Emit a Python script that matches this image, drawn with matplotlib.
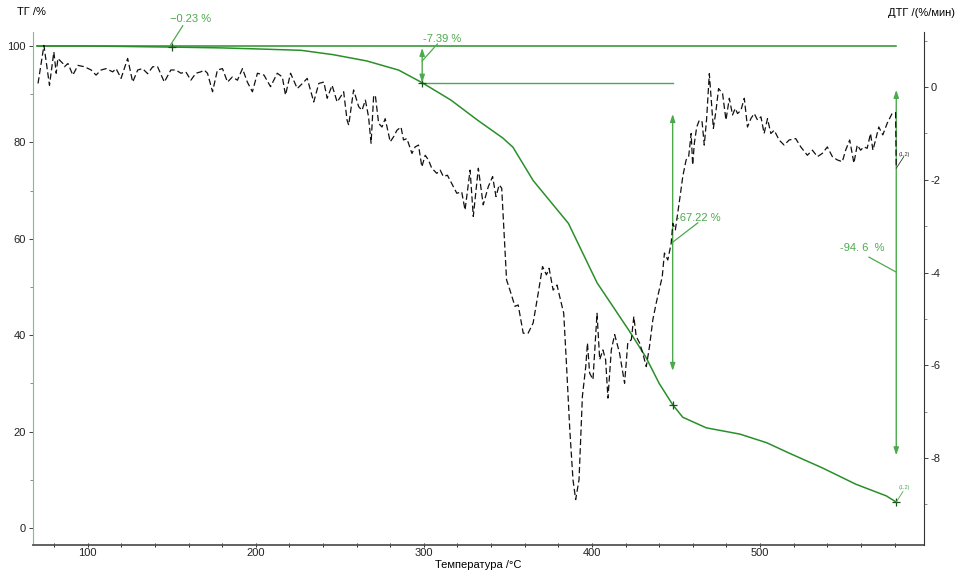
import matplotlib
matplotlib.use('Agg')
import matplotlib.pyplot as plt
from matplotlib.ticker import MultipleLocator

plt.rcParams['font.family'] = ['Liberation Sans', 'DejaVu Sans']
plt.rcParams['axes.unicode_minus'] = False

# TG curve (left axis, %)
tg_temp = [70, 100, 150, 180, 200, 227, 246, 266, 285, 299, 316, 332, 347, 353,
           365, 386, 403, 422, 432, 440, 448, 454, 468, 488, 504, 517, 537, 557,
           575, 581]
tg_val = [100.0, 100.0, 99.77, 99.6, 99.4, 99.1, 98.2, 96.9, 95.0, 92.38, 88.8,
          84.6, 80.9, 79.0, 72.1, 63.2, 50.9, 41.0, 35.5, 30.0, 25.6, 23.0, 20.8,
          19.5, 17.7, 15.6, 12.5, 9.1, 6.7, 5.4]

# DTG curve (right axis, %/min)
dtg_temp = [70.5, 74.0, 77.3, 79.9, 81.3, 82.3, 85.3, 86.2, 88.3, 91.2, 94.2, 98.1,
            102.1, 105.0, 108.0, 111.0, 114.9, 116.9, 119.9, 123.8, 126.8, 129.8,
            132.7, 135.7, 138.7, 141.6, 145.6, 149.5, 152.5, 155.5, 158.4, 161.4,
            164.4, 167.3, 169.3, 171.3, 174.3, 177.2, 180.2, 183.2, 186.1, 189.1,
            192.1, 195.0, 198.0, 201.0, 204.9, 208.8, 212.8, 215.8, 217.7, 220.7,
            224.7, 228.6, 230.6, 234.5, 237.5, 240.5, 242.5, 245.4, 248.4, 250.4,
            252.3, 254.3, 255.3, 258.2, 261.2, 263.2, 265.2, 267.1, 268.6, 270.1,
            271.1, 273.1, 275.1, 277.0, 280.0, 282.0, 284.0, 286.4, 287.9, 289.9,
            292.9, 294.8, 296.8, 298.8, 300.8, 302.7, 304.7, 307.7, 309.7, 311.6,
            314.0, 316.6, 319.6, 322.5, 324.5, 327.5, 329.4, 332.4, 335.3, 338.3,
            340.9, 342.9, 344.8, 346.3, 349.2, 351.2, 354.2, 356.1, 359.1, 362.0,
            365.0, 368.0, 370.6, 372.9, 374.5, 376.9, 379.2, 380.8, 383.2, 384.8,
            386.8, 388.7, 390.3, 392.3, 394.3, 396.3, 397.3, 398.6, 400.6, 403.0,
            404.6, 406.5, 408.1, 409.5, 411.5, 413.5, 416.4, 419.4, 421.3, 423.4,
            424.9, 426.3, 428.3, 430.2, 432.3, 434.2, 436.2, 438.2, 441.8, 443.1,
            445.1, 447.1, 448.1, 449.6, 451.0, 452.4, 454.0, 456.0, 457.5, 459.0,
            459.9, 460.9, 462.3, 463.9, 465.5, 466.8, 468.2, 469.8, 470.8, 472.2,
            473.8, 475.3, 477.7, 479.7, 481.7, 483.6, 485.2, 486.6, 488.6, 490.6,
            492.5, 494.5, 496.5, 498.5, 500.5, 502.4, 504.4, 506.4, 508.4, 511.3,
            514.3, 517.3, 521.2, 524.2, 528.1, 531.1, 534.1, 537.0, 540.0, 543.0,
            545.9, 548.9, 550.9, 553.3, 555.8, 557.8, 559.8, 561.7, 563.7, 565.7,
            567.1, 568.7, 570.6, 573.0, 575.6, 578.5, 580.6, 581.0]
dtg_val = [0.08, 0.9, 0.04, 0.76, 0.30, 0.62, 0.51, 0.44, 0.51, 0.26, 0.47, 0.44,
           0.37, 0.26, 0.37, 0.40, 0.33, 0.40, 0.19, 0.62, 0.11, 0.37,
           0.40, 0.29, 0.44, 0.44, 0.11, 0.37, 0.37, 0.30, 0.33, 0.15,
           0.30, 0.33, 0.37, 0.30, -0.10, 0.37, 0.40, 0.11, 0.22, 0.15,
           0.40, 0.11, -0.10, 0.30, 0.26, 0.01, 0.30, 0.22, -0.17, 0.30,
           -0.03, 0.11, 0.19, -0.32, 0.08, 0.11, -0.24, 0.04, -0.32, -0.21,
           -0.10, -0.71, -0.82, -0.06, -0.42, -0.50, -0.28, -0.64, -1.21, -0.21,
           -0.17, -0.78, -0.86, -0.68, -1.18, -1.07, -0.93, -0.86, -1.14, -1.11,
           -1.43, -1.29, -1.25, -1.72, -1.47, -1.57, -1.75, -1.86, -1.79, -1.93,
           -1.90, -2.08, -2.29, -2.26, -2.65, -1.79, -2.79, -1.75, -2.54, -2.15,
           -1.93, -2.36, -2.11, -2.18, -4.16, -4.38, -4.73, -4.70, -5.31, -5.31,
           -5.09, -4.45, -3.87, -4.05, -3.91, -4.38, -4.27, -4.52, -4.88, -5.96,
           -7.39, -8.47, -8.90, -8.47, -6.67, -6.03, -5.52, -6.17, -6.31, -4.88,
           -5.88, -5.67, -5.88, -6.71, -5.67, -5.34, -5.74, -6.39, -5.52, -5.45,
           -4.95, -5.38, -5.52, -5.74, -6.03, -5.60, -5.02, -4.66, -4.09, -3.58,
           -3.73, -3.37, -2.94, -3.08, -2.72, -2.36, -1.93, -1.57, -1.50, -1.00,
           -1.68, -1.21, -0.86, -0.71, -0.75, -1.25, -0.68, 0.29, -0.21, -0.89,
           -0.50, -0.03, -0.14, -0.71, -0.24, -0.60, -0.46, -0.57, -0.50, -0.24,
           -0.86, -0.68, -0.57, -0.71, -0.64, -1.00, -0.68, -1.00, -0.93, -1.14,
           -1.25, -1.14, -1.11, -1.29, -1.47, -1.36, -1.50, -1.43, -1.29, -1.50,
           -1.57, -1.61, -1.36, -1.14, -1.64, -1.25, -1.36, -1.29, -1.32, -1.00,
           -1.36, -1.14, -0.86, -1.03, -0.78, -0.57, -0.55, -1.75]

# mass-loss steps
step_temp = [150, 299, 448, 581]
step_tg = [99.77, 92.38, 25.6, 5.4]
step_labels = ['\u22120.23 %', '-7.39 %', '-67.22 %', '-94. 6  %']

green = '#2a8f2a'
agreen = '#4caa4c'

fig = plt.figure(figsize=(9.61, 5.83), dpi=100)
ax = fig.add_axes([33 / 961, 1 - 545 / 583, (924 - 33) / 961, (545 - 32) / 583])
ax.set_xlim(67.5, 597.5)
ax.set_ylim(-3.5, 102.9)

ax2 = ax.twinx()
ax2.set_ylim(-9.88, 1.19)

# reference lines
ax.plot([70, 581], [100, 100], color=green, lw=1.1)
ax.plot([step_temp[1], step_temp[2]], [step_tg[1], step_tg[1]], color=agreen, lw=1.0)

ax.plot(tg_temp, tg_val, color=green, lw=1.1)
ax2.plot(dtg_temp, dtg_val, color='#111111', lw=0.9, ls=(0, (5, 2.5)))

ax.plot(step_temp, step_tg, '+', color='#1d4f1d', ms=6, mew=0.9, clip_on=False)

arrow = dict(arrowstyle='<|-|>, head_length=0.45, head_width=0.15', color=agreen,
             lw=1.0, shrinkA=0, shrinkB=0)
ax.annotate('', xy=(step_temp[1], 99.6), xytext=(step_temp[1], step_tg[1]),
            arrowprops=arrow)
ax.annotate('', xy=(step_temp[2], 85.9), xytext=(step_temp[2], 32.6),
            arrowprops=arrow)
ax.annotate('', xy=(step_temp[3], 90.9), xytext=(step_temp[3], 15.1),
            arrowprops=arrow)

# leader lines and labels
ax.plot([148.9, 156.6], [100.0, 104.2], color=agreen, lw=0.9, clip_on=False)
ax.text(161, 104.6, step_labels[0], color=agreen, fontsize=8, ha='center', va='bottom',
        clip_on=False)
ax.plot([step_temp[1], 308], [96.9, 100.4], color=agreen, lw=0.9)
ax.text(311, 100.5, step_labels[1], color=agreen, fontsize=8, ha='center', va='bottom',
        clip_on=False)
ax.plot([step_temp[2], 462.9], [59.3, 63.3], color=agreen, lw=0.9)
ax.text(463, 63.2, step_labels[2], color=agreen, fontsize=8, ha='center', va='bottom')
ax.plot([564.8, step_temp[3]], [56.2, 53.1], color=agreen, lw=0.9)
ax.text(561, 57.0, step_labels[3], color=agreen, fontsize=8, ha='center', va='bottom')

ax.plot([581, 585], [5.4, 7.6], color=agreen, lw=0.6)
ax.text(585.5, 8.0, '(1,2)', color=agreen, fontsize=4, ha='center', va='bottom')
ax2.plot([581, 585.5], [-1.75, -1.5], color='#333333', lw=0.6)
ax2.text(585.5, -1.5, '(1,2)', color='#333333', fontsize=4, ha='center', va='bottom')

# axes styling
for a in (ax, ax2):
    a.spines['top'].set_visible(False)
ax.spines['left'].set_color('#7cc47c')
ax.spines['right'].set_visible(False)
ax2.spines['left'].set_visible(False)
ax2.spines['bottom'].set_visible(False)
ax2.spines['right'].set_color('#333333')
ax.spines['bottom'].set_color('#555555')
ax.spines['bottom'].set_linewidth(1.3)

ax.set_xticks(range(100, 501, 100))
ax.xaxis.set_minor_locator(MultipleLocator(20))
ax.set_yticks(range(0, 101, 20))
ax.yaxis.set_minor_locator(MultipleLocator(10))
ax2.set_yticks([-8, -6, -4, -2, 0])
ax2.yaxis.set_minor_locator(MultipleLocator(1))

ax.tick_params(axis='y', which='major', labelsize=8, length=3, width=0.6, pad=2,
               colors='#222222')
ax.tick_params(axis='y', which='minor', length=2, width=0.6, colors='#777777')
ax.tick_params(axis='x', which='both', labelsize=8, direction='inout', length=3,
               width=0.7, pad=1, colors='#222222')
ax2.tick_params(axis='y', which='major', labelsize=8, length=3, width=0.6, pad=2,
                colors='#222222')
ax2.tick_params(axis='y', which='minor', length=2, width=0.6, colors='#777777')

ax.set_xlabel('Температура /°C', fontsize=8, labelpad=1)
fig.text(17 / 961, 1 - 12 / 583, 'ТГ /%', ha='left', va='center', fontsize=8)
fig.text(955 / 961, 1 - 13 / 583, 'ДТГ /(%/мин)', ha='right', va='center', fontsize=8)

fig.savefig('out.png', dpi=100)
